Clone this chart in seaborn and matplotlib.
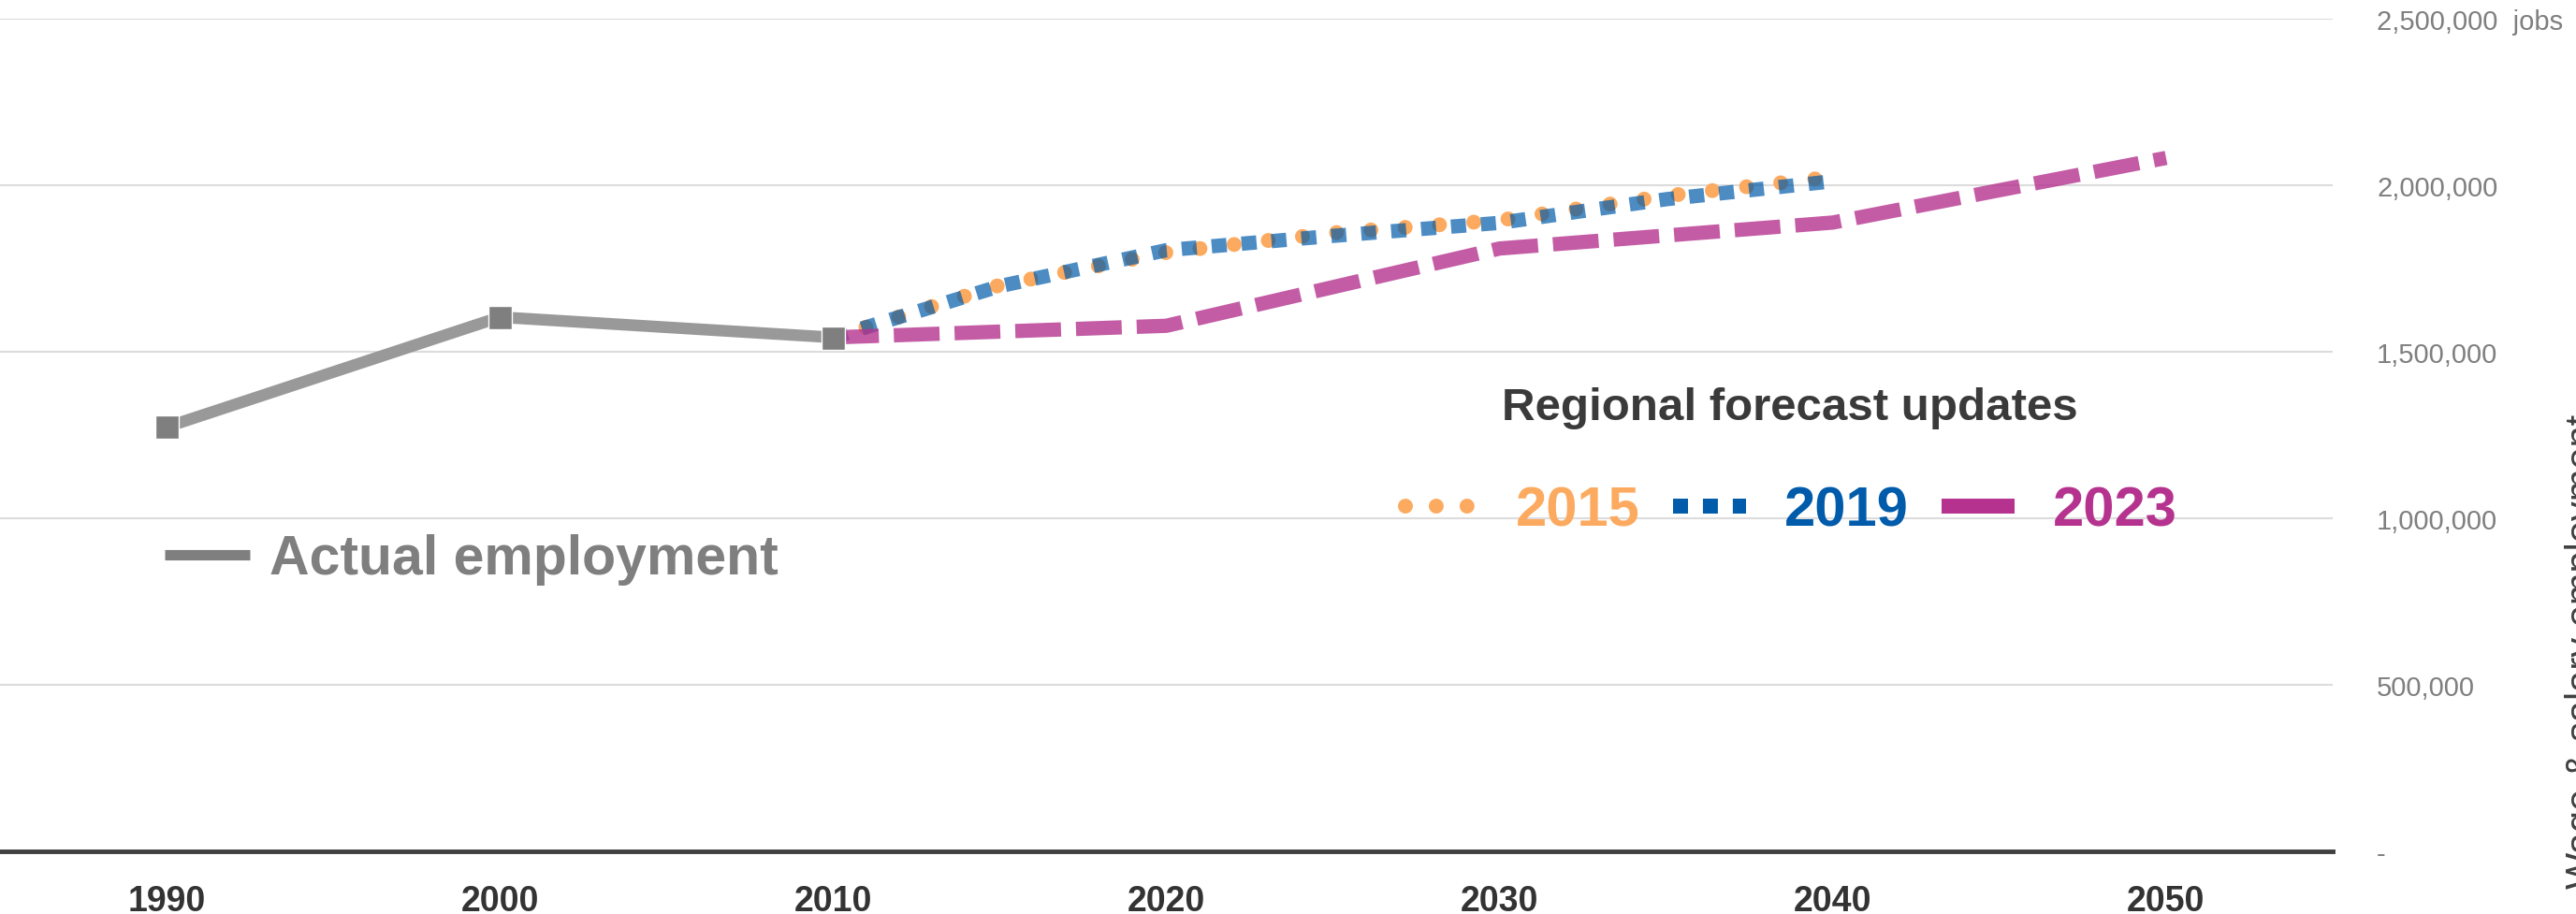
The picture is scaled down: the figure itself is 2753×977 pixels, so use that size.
import pandas as pd
import matplotlib.pyplot as plt
import seaborn as sns
from matplotlib.lines import Line2D
from matplotlib.ticker import FuncFormatter

# Data
actual_years = [1990, 2000, 2010]
actual_jobs = [1274000, 1604000, 1543000]

f2015_years = [2010, 2015, 2020, 2025, 2030, 2035, 2040]
f2015_jobs = [1543000, 1700000, 1798000, 1857000, 1895000, 1968000, 2025000]

f2019_years = [2010, 2015, 2020, 2025, 2030, 2035, 2040]
f2019_jobs = [1543000, 1697000, 1805000, 1848000, 1887000, 1958000, 2012000]

f2023_years = [2010, 2020, 2030, 2040, 2050]
f2023_jobs = [1543000, 1578000, 1810000, 1888000, 2082000]

year_ticks = [1990, 2000, 2010, 2020, 2030, 2040, 2050]
job_ticks = [0, 500000, 1000000, 1500000, 2000000, 2500000]

GRAY = '#7f7f7f'
ORANGE = '#fcaa5f'
BLUE = '#005baa'
MAGENTA = '#b5338f'

sns.set_theme(style='white')
plt.rcParams['font.family'] = ['Liberation Sans', 'DejaVu Sans']

W, H = 2753, 978
fig = plt.figure(figsize=(W / 100, H / 100), dpi=100)
ax = fig.add_axes([0, 1 - 911 / H, 2493 / W, (911 - 21) / H])

df_act = pd.DataFrame({'year': actual_years, 'jobs': actual_jobs})
df15 = pd.DataFrame({'year': f2015_years, 'jobs': f2015_jobs})
df19 = pd.DataFrame({'year': f2019_years, 'jobs': f2019_jobs})
df23 = pd.DataFrame({'year': f2023_years, 'jobs': f2023_jobs})

sns.lineplot(data=df15, x='year', y='jobs', ax=ax, color=ORANGE,
             linewidth=11.5, linestyle=(0, (0.001, 2.3)),
             dash_capstyle='round', zorder=3)
sns.lineplot(data=df19, x='year', y='jobs', ax=ax, color=BLUE, alpha=0.7,
             linewidth=11, linestyle=(0, (1.05, 1.05)), dash_capstyle='butt',
             zorder=4)
sns.lineplot(data=df23, x='year', y='jobs', ax=ax, color=MAGENTA, alpha=0.8,
             linewidth=11, linestyle=(0, (3.2, 1.05)), dash_capstyle='butt',
             zorder=5)
sns.lineplot(data=df_act, x='year', y='jobs', ax=ax, color='#999999',
             linewidth=9, marker='s', markersize=18, markerfacecolor=GRAY,
             markeredgecolor='white', markeredgewidth=1, zorder=6)

ax.set_xlim(1985, 2055)
ax.set_ylim(0, 2500000)
ax.set_xticks(year_ticks)
ax.set_yticks(job_ticks)
ax.set_xlabel('')
ax.set_ylabel('')


def fmt(v, pos):
    if v == 0:
        return '-'
    s = f'{int(v):,}'
    if v == 2500000:
        s += '  jobs'
    return s


ax.yaxis.set_major_formatter(FuncFormatter(fmt))
ax.yaxis.tick_right()
ax.tick_params(axis='y', length=0, pad=34, labelsize=21, labelcolor=GRAY)
ax.tick_params(axis='x', length=0, pad=25, labelsize=27, labelcolor='#333333')
for lab in ax.get_xticklabels():
    lab.set_fontweight('bold')

ax.grid(axis='y', color='#dcdcdc', lw=1.5)
ax.grid(axis='x', visible=False)
for side in ['top', 'left', 'right']:
    ax.spines[side].set_visible(False)
ax.spines['bottom'].set_color('#404040')
ax.spines['bottom'].set_linewidth(3.5)
ax.spines['bottom'].set_zorder(7)

# Actual employment legend
act_handle = Line2D([], [], color=GRAY, linewidth=8, solid_capstyle='butt')
leg1 = fig.legend([act_handle], ['Actual employment'], loc='center left',
                  bbox_to_anchor=(176 / W, 1 - 599 / H), frameon=False,
                  borderpad=0, borderaxespad=0, handlelength=1.55,
                  handletextpad=0.35, prop={'size': 42.5, 'weight': 'bold'})
leg1.get_texts()[0].set_color(GRAY)

# Forecast legend
fig.text(1913 / W, 1 - 437 / H, 'Regional forecast updates', ha='center',
         va='center', fontsize=35.5, fontweight='bold', color='#3a3a3a')
h15 = Line2D([], [], color=ORANGE, linewidth=11.5,
             linestyle=(0, (0.001, 2.06)), dash_capstyle='round')
h19 = Line2D([], [], color=BLUE, linewidth=11.5, linestyle=(0, (1.0, 1.0)))
h23 = Line2D([], [], color=MAGENTA, linewidth=11.5, solid_capstyle='butt')
leg2 = fig.legend([h15, h19, h23], ['2015', '2019', '2023'], loc='center',
                  bbox_to_anchor=(1914 / W, 1 - 547 / H), ncol=3, frameon=False,
                  borderpad=0, borderaxespad=0, handlelength=1.3,
                  handletextpad=0.68, columnspacing=0.6,
                  prop={'size': 43, 'weight': 'bold'})
for t, c in zip(leg2.get_texts(), [ORANGE, BLUE, MAGENTA]):
    t.set_color(c)

# axis title at right edge (mostly cut off in the original)
fig.text(2741 / W, 1 - 443 / H, 'Wage & salary employment', rotation=90,
         ha='left', va='top', fontsize=30, color='#404040')

fig.savefig('out.png', dpi=100)
